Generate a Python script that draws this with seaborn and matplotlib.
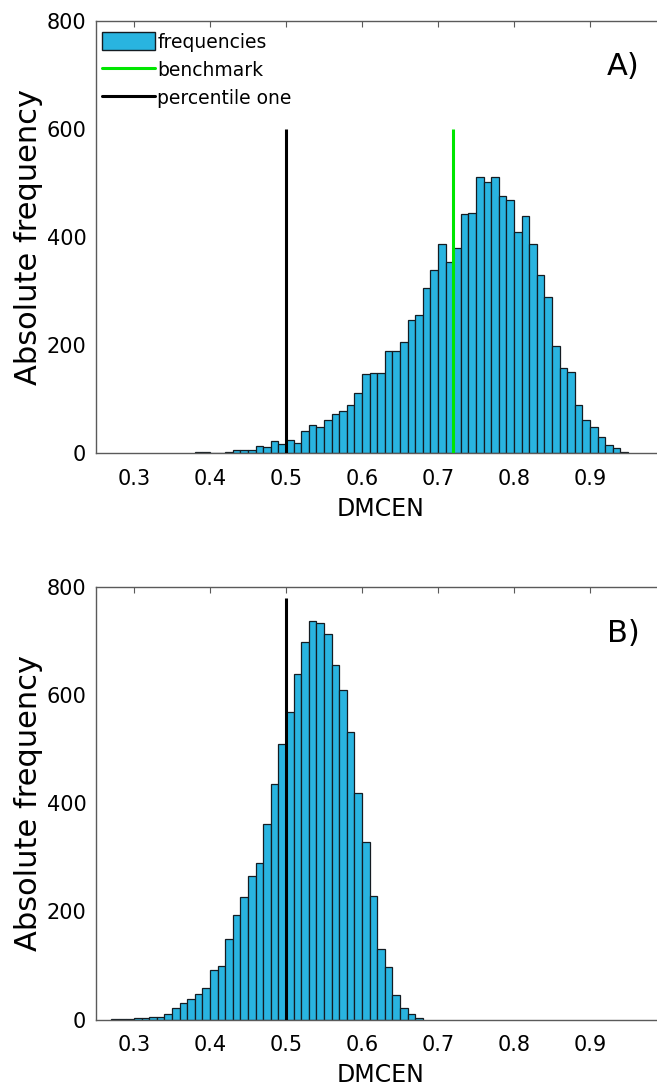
import numpy as np
import matplotlib
matplotlib.use("Agg")
import matplotlib.pyplot as plt
from matplotlib.patches import Patch
from matplotlib.lines import Line2D
import seaborn as sns

# ---------------- data ----------------
# Panel A: left edges of 0.01-wide bins and absolute frequencies
bins_a = [0.38, 0.39, 0.40, 0.41, 0.42, 0.43, 0.44, 0.45, 0.46, 0.47,
          0.48, 0.49, 0.50, 0.51, 0.52, 0.53, 0.54, 0.55, 0.56, 0.57,
          0.58, 0.59, 0.60, 0.61, 0.62, 0.63, 0.64, 0.65, 0.66, 0.67,
          0.68, 0.69, 0.70, 0.71, 0.72, 0.73, 0.74, 0.75, 0.76, 0.77,
          0.78, 0.79, 0.80, 0.81, 0.82, 0.83, 0.84, 0.85, 0.86, 0.87,
          0.88, 0.89, 0.90, 0.91, 0.92, 0.93, 0.94]
freq_a = [2, 2, 1, 1, 3, 7, 7, 6, 14, 11,
          22, 18, 25, 19, 41, 52, 49, 62, 73, 79,
          90, 112, 146, 148, 148, 190, 190, 206, 246, 255,
          306, 339, 386, 354, 379, 442, 445, 510, 501, 510,
          475, 468, 409, 438, 386, 330, 289, 198, 158, 150,
          90, 61, 49, 31, 15, 9, 2]

# Panel B
bins_b = [0.27, 0.28, 0.29, 0.30, 0.31, 0.32, 0.33, 0.34, 0.35, 0.36,
          0.37, 0.38, 0.39, 0.40, 0.41, 0.42, 0.43, 0.44, 0.45, 0.46,
          0.47, 0.48, 0.49, 0.50, 0.51, 0.52, 0.53, 0.54, 0.55, 0.56,
          0.57, 0.58, 0.59, 0.60, 0.61, 0.62, 0.63, 0.64, 0.65, 0.66,
          0.67]
freq_b = [1, 1, 1, 2, 3, 4, 5, 10, 21, 31,
          38, 48, 58, 92, 99, 148, 194, 226, 266, 290,
          361, 435, 510, 569, 638, 697, 736, 733, 712, 656,
          609, 531, 418, 329, 229, 131, 98, 45, 21, 10,
          3]

bin_width = 0.01
benchmark_a = 0.72
percentile_a = 0.50
percentile_b = 0.50
line_top_a = 600
line_top_b = 780

xticks = [0.3, 0.4, 0.5, 0.6, 0.7, 0.8, 0.9]
yticks = [0, 200, 400, 600, 800]
legend_labels = ["frequencies", "benchmark", "percentile one"]
panel_labels = ["A)", "B)"]

# ---------------- style ----------------
sns.set_style("white")
plt.rcParams["font.family"] = ["DejaVu Sans"]
plt.rcParams["text.color"] = "black"
plt.rcParams["axes.labelcolor"] = "black"
plt.rcParams["xtick.labelcolor"] = "black"
plt.rcParams["ytick.labelcolor"] = "black"

BAR = "#29b4e0"
EDGE = "#141c22"
SPINE = "#5a5a5a"
GREEN = "#00e600"

fig = plt.figure(figsize=(6.57, 10.91), dpi=100)
ax_a = fig.add_axes([0.1461, 0.5845, 0.8676, 0.3967])
ax_b = fig.add_axes([0.1461, 0.0655, 0.8676, 0.3967])


def draw(ax, bins, freq, panel):
    centers = [b + bin_width / 2 for b in bins]
    edges = list(bins) + [bins[-1] + bin_width]
    sns.histplot(x=centers, weights=freq, bins=edges, ax=ax,
                 color=BAR, edgecolor=EDGE, linewidth=0.9, alpha=1.0)
    ax.set_xlim(0.25, 1.0)
    ax.set_ylim(0, 800)
    ax.set_xticks(xticks)
    ax.set_xticklabels([f"{t:.1f}" for t in xticks])
    ax.set_yticks(yticks)
    ax.set_yticklabels([str(t) for t in yticks])
    ax.tick_params(direction="in", length=4, width=0.8, color=SPINE,
                   labelsize=15, labelcolor="black", top=True, right=True)
    ax.tick_params(axis="x", pad=11)
    ax.tick_params(axis="y", pad=7)
    for s in ax.spines.values():
        s.set_color(SPINE)
        s.set_linewidth(1.0)
    ax.set_xlabel("DMCEN", fontsize=17, labelpad=6, color="black")
    ax.set_ylabel("Absolute frequency", fontsize=22, color="black")
    ax.yaxis.set_label_coords(-0.093, 0.5)
    ax.text(0.925, 0.893, panel, transform=ax.transAxes, fontsize=22,
            ha="center", va="center", color="black")


draw(ax_a, bins_a, freq_a, panel_labels[0])
draw(ax_b, bins_b, freq_b, panel_labels[1])

ax_a.vlines(percentile_a, 0, line_top_a, color="black", linewidth=2.2, zorder=5)
ax_a.vlines(benchmark_a, 0, line_top_a, color=GREEN, linewidth=2.2, zorder=5)
ax_b.vlines(percentile_b, 0, line_top_b, color="black", linewidth=2.2, zorder=5)

handles = [Patch(facecolor=BAR, edgecolor=EDGE, linewidth=1.0),
           Line2D([], [], color=GREEN, linewidth=2.2),
           Line2D([], [], color="black", linewidth=2.2)]
leg = ax_a.legend(handles, legend_labels, loc="upper left",
                  bbox_to_anchor=(0.0, 0.986),
                  frameon=False, fontsize=13.5, handlelength=2.83,
                  handleheight=1.12, handletextpad=0.15, labelspacing=0.45,
                  borderaxespad=0.0, borderpad=0.3)
for t in leg.get_texts():
    t.set_color("black")

fig.savefig("out.png", dpi=100)
